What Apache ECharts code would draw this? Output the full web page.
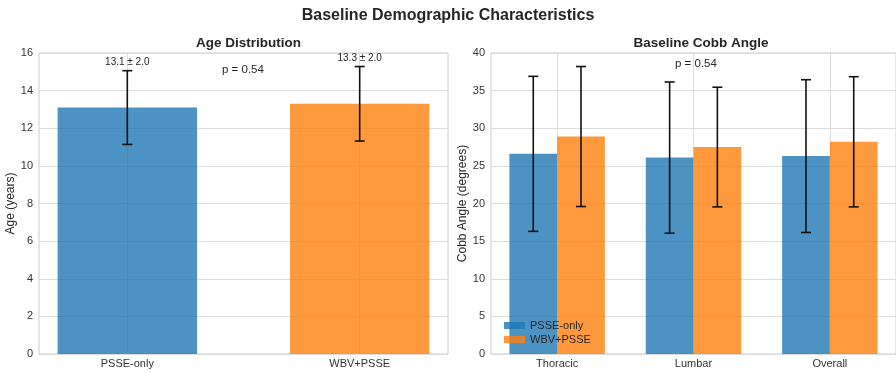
<!DOCTYPE html>
<html>
<head>
<meta charset="utf-8">
<style>
  html, body { margin: 0; padding: 0; background: #fff; }
  #main { width: 896px; height: 373px; }
</style>
<script src="https://cdn.jsdelivr.net/npm/echarts@6/dist/echarts.min.js"></script>
</head>
<body>
<div id="main"></div>
<script>
// groups and values
var groups = ['PSSE-only', 'WBV+PSSE'];
var ageMean = [13.1, 13.3];
var ageSd = [1.96, 1.98];

var regions = ['Thoracic', 'Lumbar', 'Overall'];
var cobbPsse = [26.6, 26.1, 26.3];
var cobbPsseSd = [10.3, 10.05, 10.15];
var cobbWbv = [28.9, 27.5, 28.2];
var cobbWbvSd = [9.3, 7.95, 8.65];

var ageTicks = [0, 16, 2];   // min, max, step
var cobbTicks = [0, 40, 5];
var pValues = ['p = 0.54', 'p = 0.54'];

var BLUE = 'rgba(31,119,180,0.8)';
var ORANGE = 'rgba(255,127,14,0.8)';
var FONT = 'Liberation Sans, Arial, sans-serif';

var myChart = echarts.init(document.getElementById('main'));

// bar + error bar drawn from [x, mean, sd]
function barItem(width, offset, color, showText) {
  return function (params, api) {
    var x = api.value(0) + offset;
    var m = api.value(1);
    var sd = api.value(2);
    var p0 = api.coord([x - width / 2, m]);
    var p1 = api.coord([x + width / 2, 0]);
    var top = api.coord([x, m + sd]);
    var bot = api.coord([x, m - sd]);
    var cap = 5;
    var children = [{
      type: 'rect',
      shape: { x: p0[0], y: p0[1], width: p1[0] - p0[0], height: p1[1] - p0[1] },
      style: { fill: color }
    }, {
      type: 'line', shape: { x1: top[0], y1: top[1], x2: bot[0], y2: bot[1] },
      style: { stroke: '#111', lineWidth: 1.6 }
    }, {
      type: 'line', shape: { x1: top[0] - cap, y1: top[1], x2: top[0] + cap, y2: top[1] },
      style: { stroke: '#111', lineWidth: 1.6 }
    }, {
      type: 'line', shape: { x1: bot[0] - cap, y1: bot[1], x2: bot[0] + cap, y2: bot[1] },
      style: { stroke: '#111', lineWidth: 1.6 }
    }];
    if (showText) {
      children.push({
        type: 'text',
        style: {
          x: top[0], y: top[1] - 8,
          text: m.toFixed(1) + ' \u00b1 ' + sd.toFixed(1),
          align: 'center', verticalAlign: 'middle',
          fill: '#262626', font: '10px ' + FONT
        }
      });
    }
    return { type: 'group', children: children };
  };
}

function zip(means, sds) {
  return means.map(function (m, i) { return [i, m, sds[i]]; });
}

// vertical grid lines at the category positions, kept under the bars
function vGrid(n, axis) {
  var d = [];
  for (var i = 0; i < n; i++) d.push({ xAxis: i });
  return {
    type: 'line', name: 'vgrid' + axis, xAxisIndex: axis, yAxisIndex: axis,
    data: [], z: 1, silent: true,
    markLine: {
      z: 1, silent: true, symbol: 'none', label: { show: false },
      lineStyle: { color: '#dcdcdc', type: 'solid', width: 1 },
      data: d
    }
  };
}

var gridLine = { show: true, lineStyle: { color: '#dcdcdc', width: 1 } };
var yLabel = { color: '#333', fontSize: 11, fontFamily: FONT, margin: 6 };

myChart.setOption({
  animation: false,
  textStyle: { fontFamily: FONT },
  title: [{
    text: 'Baseline Demographic Characteristics',
    left: 'center', top: 3,
    textStyle: { fontSize: 16, fontWeight: 'bold', color: '#262626' }
  }, {
    text: 'Age Distribution',
    left: 243.5, top: 31, textAlign: 'center',
    textStyle: { fontSize: 13.5, fontWeight: 'bold', color: '#262626' }
  }, {
    text: 'Baseline Cobb Angle',
    left: 696, top: 31, textAlign: 'center',
    textStyle: { fontSize: 13.5, fontWeight: 'bold', color: '#262626' }
  }],
  legend: {
    data: groups,
    orient: 'vertical',
    left: 499, top: 315,
    itemWidth: 21, itemHeight: 7, itemGap: 3,
    icon: 'rect',
    textStyle: { fontSize: 11, color: '#262626' }
  },
  grid: [
    { left: 39, right: 448, top: 53, bottom: 19, show: true, borderColor: '#cccccc', borderWidth: 1 },
    { left: 491, right: -5, top: 53, bottom: 19, show: true, borderColor: '#cccccc', borderWidth: 1 }
  ],
  xAxis: [{
    gridIndex: 0, type: 'value', min: -0.38, max: 1.38,
    splitLine: { show: false }, axisLine: { show: false }, axisTick: { show: false },
    axisLabel: {
      customValues: [0, 1], color: '#333', fontSize: 11, margin: 4,
      formatter: function (v) { return groups[Math.round(v)]; }
    }
  }, {
    gridIndex: 1, type: 'value', min: -0.485, max: 2.485,
    splitLine: { show: false }, axisLine: { show: false }, axisTick: { show: false },
    axisLabel: {
      customValues: [0, 1, 2], color: '#333', fontSize: 11, margin: 4,
      formatter: function (v) { return regions[Math.round(v)]; }
    }
  }],
  yAxis: [{
    gridIndex: 0, type: 'value', min: ageTicks[0], max: ageTicks[1], interval: ageTicks[2],
    name: 'Age (years)', nameLocation: 'middle', nameGap: 18,
    nameTextStyle: { fontSize: 12, color: '#262626' },
    axisLine: { show: false }, axisTick: { show: false },
    axisLabel: yLabel, splitLine: gridLine
  }, {
    gridIndex: 1, type: 'value', min: cobbTicks[0], max: cobbTicks[1], interval: cobbTicks[2],
    name: 'Cobb Angle (degrees)', nameLocation: 'middle', nameGap: 19,
    nameTextStyle: { fontSize: 12, color: '#262626' },
    axisLine: { show: false }, axisTick: { show: false },
    axisLabel: yLabel, splitLine: gridLine
  }],
  series: [
    vGrid(2, 0),
    vGrid(3, 1),
  {
    type: 'custom', name: 'age-psse', xAxisIndex: 0, yAxisIndex: 0, z: 3,
    renderItem: barItem(0.6, 0, BLUE, true),
    data: [zip(ageMean, ageSd)[0]]
  }, {
    type: 'custom', name: 'age-wbv', xAxisIndex: 0, yAxisIndex: 0, z: 3,
    renderItem: barItem(0.6, 0, ORANGE, true),
    data: [zip(ageMean, ageSd)[1]]
  }, {
    type: 'custom', name: groups[0], xAxisIndex: 1, yAxisIndex: 1, z: 3,
    itemStyle: { color: BLUE },
    renderItem: barItem(0.35, -0.175, BLUE, false),
    data: zip(cobbPsse, cobbPsseSd)
  }, {
    type: 'custom', name: groups[1], xAxisIndex: 1, yAxisIndex: 1, z: 3,
    itemStyle: { color: ORANGE },
    renderItem: barItem(0.35, 0.175, ORANGE, false),
    data: zip(cobbWbv, cobbWbvSd)
  }],
  graphic: [{
    type: 'text', left: 243 - 21, top: 64,
    style: { text: pValues[0], fill: '#262626', font: '11.5px ' + FONT }
  }, {
    type: 'text', left: 696 - 21, top: 58,
    style: { text: pValues[1], fill: '#262626', font: '11.5px ' + FONT }
  }]
});
</script>
</body>
</html>
